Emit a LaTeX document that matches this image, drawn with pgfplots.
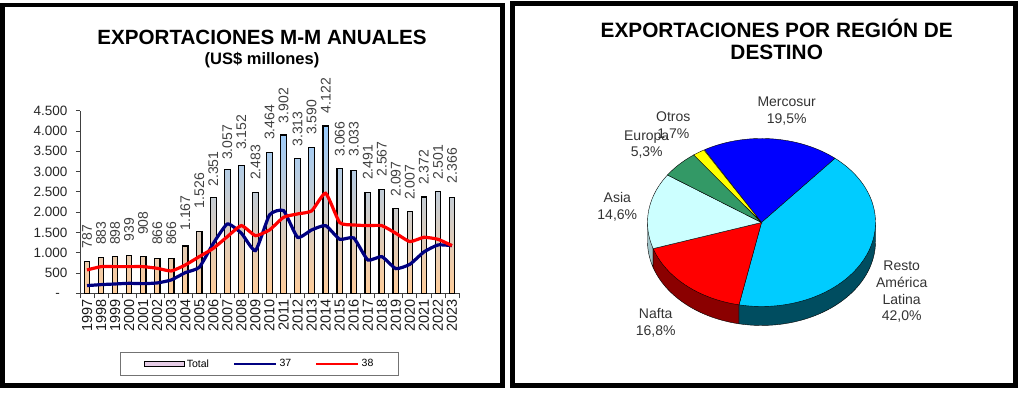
\documentclass[border=0pt]{standalone}
\usepackage{pgfplots}
\usepackage{pgfplotstable}
\pgfplotsset{compat=1.18}
\usepackage{fontspec}
\setmainfont{Liberation Sans}
\definecolor{barTop}{HTML}{99CCFF}
\definecolor{barMid}{HTML}{E0C8DC}
\definecolor{barBot}{HTML}{FFCC99}
\definecolor{legMid}{HTML}{E6CCE6}
\definecolor{navyL}{HTML}{000080}
\definecolor{mercoC}{HTML}{0000FF}
\definecolor{restoC}{HTML}{00CCFF}
\definecolor{naftaC}{HTML}{FF0000}
\definecolor{asiaC}{HTML}{CCFFFF}
\definecolor{europaC}{HTML}{339966}
\definecolor{otrosC}{HTML}{FFFF00}
\definecolor{restoS}{HTML}{004D60}
\definecolor{naftaS}{HTML}{8B0000}
\definecolor{asiaS}{HTML}{9FC4C8}

\pgfplotstableread{
x year total a37 a38 lab
0 1997 787 189 575 1109
1 1998 883 214 657 1190
2 1999 898 230 657 1190
3 2000 939 246 657 1272
4 2001 908 238 657 1437
5 2002 866 255 616 1190
6 2003 866 329 550 1190
7 2004 1167 509 698 1543
8 2005 1526 641 904 2094
9 2006 2351 1232 1109 2627
10 2007 3057 1709 1397 3285
11 2008 3152 1479 1668 3531
12 2009 2483 1052 1421 2792
13 2010 3464 1931 1561 3778
14 2011 3902 2038 1873 4189
15 2012 3313 1380 1956 3613
16 2013 3590 1561 2030 3901
17 2014 4122 1668 2465 4435
18 2015 3066 1331 1742 3367
19 2016 3033 1364 1684 3367
20 2017 2491 822 1668 2792
21 2018 2567 904 1668 2874
22 2019 2097 608 1479 2381
23 2020 2007 715 1274 2299
24 2021 2372 1019 1380 2669
25 2022 2501 1191 1331 2792
26 2023 2366 1175 1175 2710
}\exportdata

\begin{document}
\begin{tikzpicture}
\path (0pt,0pt) rectangle (1024pt,393pt);
\draw[line width=4.5pt] (2.5pt,7.5pt) rectangle (502.5pt,388pt);
\draw[line width=4.5pt] (512.5pt,7.5pt) rectangle (1015.5pt,389.5pt);

\node[font=\bfseries\fontsize{20.6}{24}\selectfont] at (262pt,355.8pt) {EXPORTACIONES M-M ANUALES};
\node[font=\bfseries\fontsize{16.5}{19}\selectfont] at (262pt,333pt) {(US\$ millones)};
\node[font=\bfseries\fontsize{20.8}{24}\selectfont] at (776.7pt,364.2pt) {EXPORTACIONES POR REGIÓN DE};
\node[font=\bfseries\fontsize{20.8}{24}\selectfont] at (776.7pt,340.5pt) {DESTINO};

\begin{axis}[
  at={(80pt,99.7pt)}, anchor=south west, scale only axis,
  width=379pt, height=182.6pt,
  xmin=-0.5, xmax=26.5, ymin=0, ymax=4500,
  axis lines=left, axis line style={-, black!75, line width=0.8pt},
  xtick={0,...,26},
  xticklabels={1997,1998,1999,2000,2001,2002,2003,2004,2005,2006,2007,2008,2009,2010,2011,2012,2013,2014,2015,2016,2017,2018,2019,2020,2021,2022,2023},
  minor xtick={-0.5,0.5,...,26.5},
  major x tick style={draw=none},
  ytick={0,500,...,4500},
  yticklabels={-\phantom{0},500,1.000,1.500,2.000,2.500,3.000,3.500,4.000,4.500},
  tick align=outside, major tick length=4pt, minor tick length=5pt,
  tick style={black!75, line width=0.8pt},
  xticklabel style={rotate=90, anchor=east, font=\fontsize{14.5}{16}\selectfont, inner sep=2pt, text=black!90},
  yticklabel style={font=\fontsize{13.5}{16}\selectfont, xshift=-5pt, text=black!85},
  /pgf/number format/assume math mode=true,
  /pgf/number format/1000 sep={.},
  clip=false,
  legend style={at={(axis description cs:0.4736,-0.387)}, anchor=center,
    legend columns=3, draw=black!55, line width=0.8pt,
    font=\fontsize{10.5}{12}\selectfont, inner xsep=23pt, inner ysep=5pt,
    /tikz/every even column/.append style={column sep=22pt}},
]
\addplot[ybar, bar width=5.5pt, draw=black, line width=1.2pt,
  top color=barTop, middle color=barMid, bottom color=barBot,
  legend image code/.code={\draw[black, line width=1.3pt, top color=legMid, middle color=legMid, bottom color=legMid] (0pt,-2.5pt) rectangle (40pt,2.5pt);}]
  table[x=x,y=total]{\exportdata};
\addlegendentry{Total}
\addplot[navyL, line width=3.2pt, smooth, tension=0.3, mark=none,
  legend image code/.code={\draw[navyL,line width=2.5pt] (0pt,0pt)--(42pt,0pt);}]
  table[x=x,y=a37]{\exportdata};
\addlegendentry{37}
\addplot[red, line width=3.2pt, smooth, tension=0.3, mark=none,
  legend image code/.code={\draw[red,line width=2.5pt] (0pt,0pt)--(42pt,0pt);}]
  table[x=x,y=a38]{\exportdata};
\addlegendentry{38}
\addplot[forget plot, draw=none, mark=none, nodes near coords, point meta=explicit,
  nodes near coords style={rotate=90, anchor=west, inner sep=0pt,
    font=\fontsize{14}{16}\selectfont, text=black!75}]
  table[x=x,y=lab,meta=total]{\exportdata};
\end{axis}

\def\aS{120}
\pgfmathsetmacro\aM{\aS-3.6*19.5}
\pgfmathsetmacro\aR{\aM-3.6*42.0}
\pgfmathsetmacro\aN{\aR-3.6*16.8}
\pgfmathsetmacro\aA{\aN-3.6*14.6}
\pgfmathsetmacro\aE{\aA-3.6*5.3}
\pgfmathsetmacro\aO{\aE-3.6*1.7}
\pgfmathsetmacro\cN{cos(\aN)}
\pgfmathsetmacro\sN{sin(\aN)}
\pgfmathsetmacro\cR{cos(\aR)}
\pgfmathsetmacro\sR{sin(\aR)}
\def\dep{0.226}

\begin{axis}[
  at={(647.5pt,75pt)}, anchor=south west, scale only axis,
  x=114pt, y=84pt, hide axis, clip=false,
  xmin=-1, xmax=1, ymin=-1.137, ymax=1,
]
% sides
\addplot[fill=asiaS, draw=black, line width=0.4pt, domain=-180:\aN, samples=10]
  ({cos(x)},{sin(x)-\dep}) -- (axis cs:\cN,\sN) -- (axis cs:-1,0) -- cycle;
\addplot[fill=naftaS, draw=black, line width=0.4pt, domain=\aN:\aR, samples=30]
  ({cos(x)},{sin(x)-\dep}) -- (axis cs:\cR,\sR) -- (axis cs:\cN,\sN) -- cycle;
\addplot[fill=restoS, draw=black, line width=0.4pt, domain=\aR:0, samples=40]
  ({cos(x)},{sin(x)-\dep}) -- (axis cs:1,0) -- (axis cs:\cR,\sR) -- cycle;
% top faces
\addplot[fill=mercoC, draw=black, line width=0.4pt, domain=\aM:\aS, samples=40]
  ({cos(x)},{sin(x)}) -- (axis cs:0,0) -- cycle;
\addplot[fill=restoC, draw=black, line width=0.4pt, domain=\aR:\aM, samples=80]
  ({cos(x)},{sin(x)}) -- (axis cs:0,0) -- cycle;
\addplot[fill=naftaC, draw=black, line width=0.4pt, domain=\aN:\aR, samples=40]
  ({cos(x)},{sin(x)}) -- (axis cs:0,0) -- cycle;
\addplot[fill=asiaC, draw=black, line width=0.4pt, domain=\aA:\aN, samples=40]
  ({cos(x)},{sin(x)}) -- (axis cs:0,0) -- cycle;
\addplot[fill=europaC, draw=black, line width=0.4pt, domain=\aE:\aA, samples=20]
  ({cos(x)},{sin(x)}) -- (axis cs:0,0) -- cycle;
\addplot[fill=otrosC, draw=black, line width=0.4pt, domain=\aO:\aE, samples=10]
  ({cos(x)},{sin(x)}) -- (axis cs:0,0) -- cycle;
\end{axis}

\begin{scope}[every node/.style={font=\fontsize{14}{16.7}\selectfont, text=black!80, align=center}]
\node at (786.7pt,281.7pt) {Mercosur\\19,5\%};
\node at (673.3pt,266.8pt) {Otros\\1,7\%};
\node at (646.7pt,248.3pt) {Europa\\5,3\%};
\node at (617.3pt,186.3pt) {Asia\\14,6\%};
\node at (655.7pt,70.3pt) {Nafta\\16,8\%};
\node at (901.7pt,101pt) {Resto\\América\\Latina\\42,0\%};
\end{scope}
\end{tikzpicture}
\end{document}
